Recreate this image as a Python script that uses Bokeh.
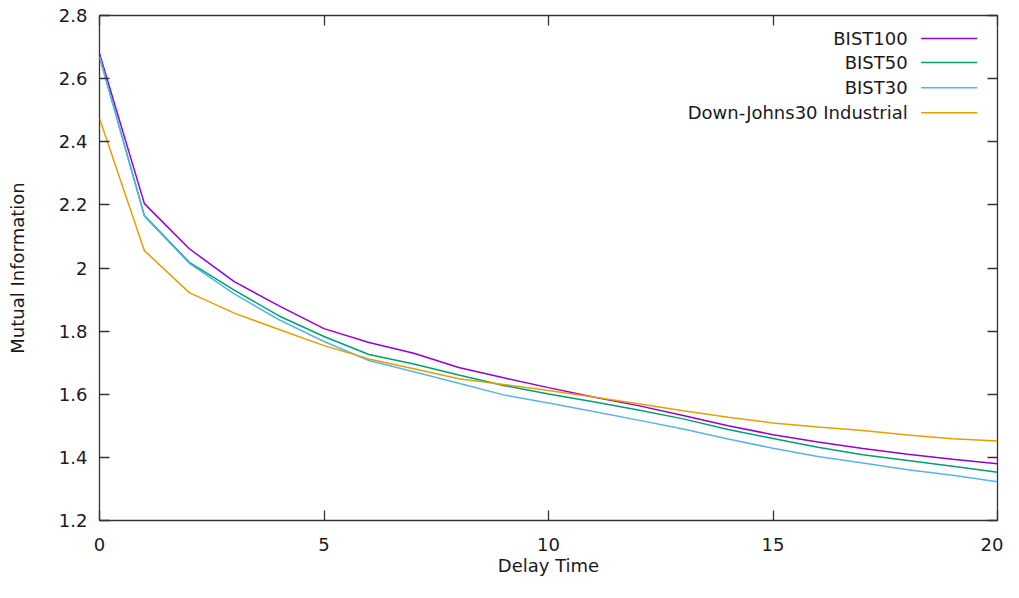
from bokeh.plotting import figure
from bokeh.models import FixedTicker, CustomJSTickFormatter, LinearAxis, Range1d
from bokeh.core.properties import value
from bokeh.embed import file_html
from bokeh.resources import INLINE

# ---- data ----
delay = list(range(21))
bist100 = [2.68, 2.204, 2.061, 1.957, 1.880, 1.808, 1.764, 1.730, 1.685, 1.652, 1.621,
           1.591, 1.564, 1.533, 1.500, 1.472, 1.449, 1.428, 1.410, 1.394, 1.380]
bist50 = [2.67, 2.166, 2.018, 1.930, 1.848, 1.783, 1.726, 1.696, 1.661, 1.628, 1.601,
          1.576, 1.550, 1.522, 1.488, 1.460, 1.432, 1.408, 1.390, 1.372, 1.353]
bist30 = [2.67, 2.164, 2.015, 1.918, 1.836, 1.767, 1.707, 1.671, 1.635, 1.598, 1.572,
          1.545, 1.518, 1.490, 1.458, 1.429, 1.403, 1.382, 1.361, 1.343, 1.323]
dj30 = [2.474, 2.055, 1.922, 1.857, 1.805, 1.754, 1.712, 1.681, 1.649, 1.631, 1.612,
        1.591, 1.570, 1.548, 1.527, 1.509, 1.496, 1.485, 1.471, 1.459, 1.452]

series_names = ["BIST100", "BIST50", "BIST30", "Down-Johns30 Industrial"]
series_values = [bist100, bist50, bist30, dj30]
colors = ["#9400d3", "#009e73", "#56b4e9", "#e69f00"]

x_ticks = [0, 5, 10, 15, 20]
y_ticks = [1.2, 1.4, 1.6, 1.8, 2.0, 2.2, 2.4, 2.6, 2.8]

FONT = "DejaVu Sans"
TXT = "#1a1a1a"
FS = "18px"

p = figure(width=1003, height=582, output_backend="svg", toolbar_location=None,
           x_range=Range1d(0, 20), y_range=Range1d(1.2, 2.8),
           min_border_left=99, min_border_right=6, min_border_top=15, min_border_bottom=62)
p.xgrid.visible = False
p.ygrid.visible = False
p.outline_line_color = "#333333"
p.outline_line_width = 1.3
p.background_fill_color = "white"
p.border_fill_color = "white"

fmt = CustomJSTickFormatter(code="return (Math.round(tick*10)/10).toString();")
blank = CustomJSTickFormatter(code="return '';")

def style(ax):
    ax.major_tick_in = 10
    ax.major_tick_out = 0
    ax.minor_tick_in = 0
    ax.minor_tick_out = 0
    ax.major_tick_line_color = "#333333"
    ax.major_tick_line_width = 1.3
    ax.axis_line_color = None
    ax.major_label_text_font = FONT
    ax.major_label_text_font_size = FS
    ax.major_label_text_color = TXT
    ax.axis_label_text_font = FONT
    ax.axis_label_text_font_size = FS
    ax.axis_label_text_font_style = "normal"
    ax.axis_label_text_color = TXT

p.xaxis.ticker = FixedTicker(ticks=x_ticks)
p.yaxis.ticker = FixedTicker(ticks=y_ticks)
p.xaxis.formatter = fmt
p.yaxis.formatter = fmt
p.xaxis.axis_label = "Delay Time"
p.yaxis.axis_label = "Mutual Information"
style(p.xaxis[0])
style(p.yaxis[0])
p.xaxis.major_label_standoff = 17
p.yaxis.major_label_standoff = 12
p.xaxis.axis_label_standoff = 1
p.yaxis.axis_label_standoff = 28

top = LinearAxis(ticker=FixedTicker(ticks=x_ticks), formatter=blank, major_label_standoff=0)
style(top)
p.add_layout(top, "above")
right = LinearAxis(ticker=FixedTicker(ticks=y_ticks), formatter=blank, major_label_standoff=0)
style(right)
p.add_layout(right, "right")

for vals, c in zip(series_values, colors):
    p.line(delay, vals, line_color=c, line_width=1.5)

# legend drawn gnuplot-style: right-aligned text, then sample line
leg_text_x = 18.0
leg_line_x0, leg_line_x1 = 18.3, 19.55
leg_y = [2.727, 2.651, 2.571, 2.492]
p.text(x=[leg_text_x] * 4, y=leg_y, text=series_names, text_align="right",
       text_baseline="middle", text_font=value(FONT), text_font_size=FS,
       text_color=TXT)
p.segment(x0=[leg_line_x0] * 4, y0=leg_y, x1=[leg_line_x1] * 4, y1=leg_y,
          line_color=colors, line_width=1.5)

open("out.html", "w").write(file_html(p, INLINE))
